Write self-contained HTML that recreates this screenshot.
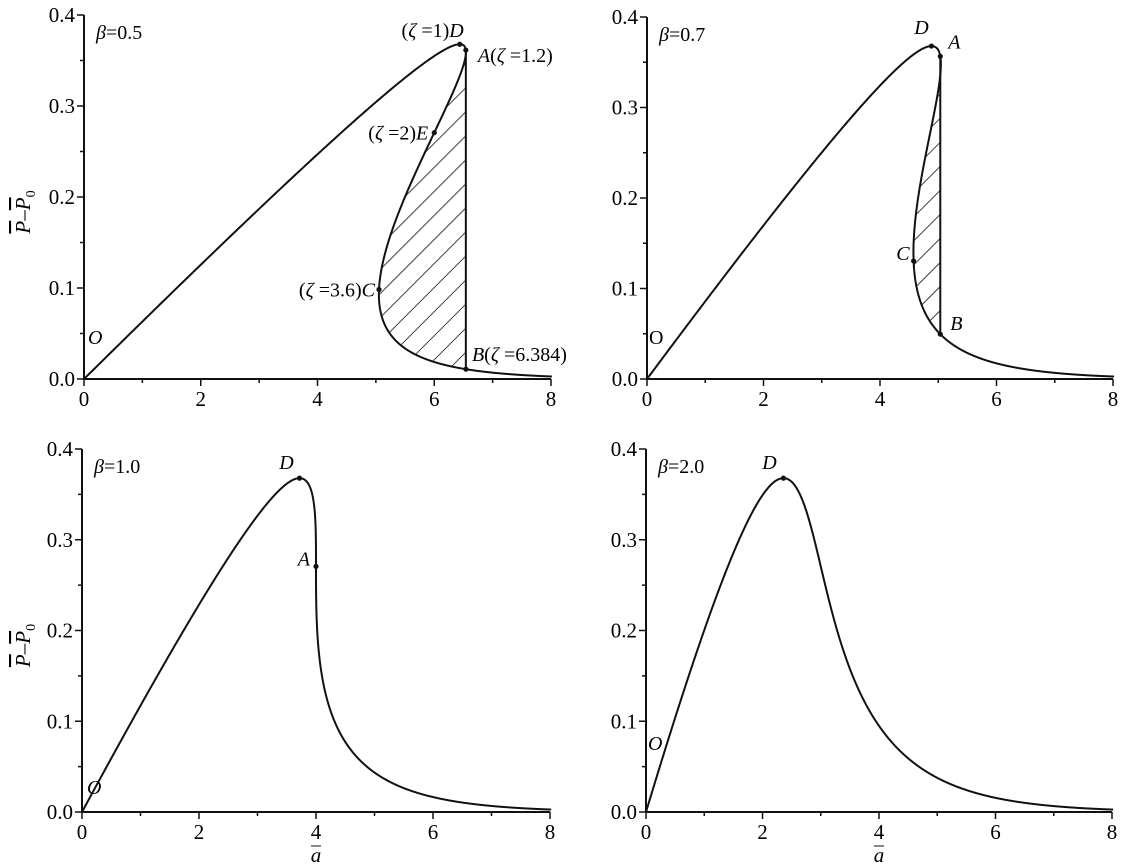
<!DOCTYPE html>
<html><head><meta charset="utf-8"><style>
html,body{margin:0;padding:0;background:#fff;}
svg{display:block;font-family:"Liberation Serif",serif;}
</style></head><body>
<svg id="s" width="1126" height="866" xmlns="http://www.w3.org/2000/svg">
<defs>
<pattern id="h" width="17" height="17" patternUnits="userSpaceOnUse" patternTransform="rotate(45)">
<line x1="0" y1="0" x2="0" y2="17" stroke="#111" stroke-width="1.6"/>
</pattern>
</defs>
</svg>
<script>
const S=document.getElementById('s');const NS='http://www.w3.org/2000/svg';
function el(t,a,txt){const e=document.createElementNS(NS,t);for(const k in a)e.setAttribute(k,a[k]);if(txt!==undefined)e.innerHTML=txt;S.appendChild(e);return e;}
const panels=[
{b:0.5,x0:84,x8:551,y0:379,y4:15,ylab:true,xlab:false},
{b:0.7,x0:647,x8:1113,y0:379,y4:17,ylab:false,xlab:false},
{b:1.0,x0:82,x8:550,y0:812,y4:449,ylab:true,xlab:true},
{b:2.0,x0:646,x8:1112,y0:812,y4:449,ylab:false,xlab:true}];
const E2=Math.exp(2);
panels.forEach((p,i)=>{
 const X=a=>p.x0+(p.x8-p.x0)*a/8, Y=v=>p.y0-(p.y0-p.y4)*v/0.4;
 const C=E2/p.b;
 const A=z=>z+C*z*Math.exp(-z), P=z=>z*Math.exp(-z);
 el('line',{x1:p.x0,y1:p.y4,x2:p.x0,y2:p.y0,stroke:'#111','stroke-width':2});
 el('line',{x1:p.x0,y1:p.y0,x2:p.x8,y2:p.y0,stroke:'#111','stroke-width':2});
 for(let k=0;k<=8;k++){const x=X(k);const L=k%2?4:7;el('line',{x1:x,y1:p.y0,x2:x,y2:p.y0+L,stroke:'#111','stroke-width':1.5});
  if(k%2==0)el('text',{x:x,y:p.y0+27,'font-size':21,'text-anchor':'middle'},k);}
 for(let k=0;k<=8;k++){const y=Y(k*0.05);const L=k%2?4:7;el('line',{x1:p.x0-L,y1:y,x2:p.x0,y2:y,stroke:'#111','stroke-width':1.5});
  if(k%2==0)el('text',{x:p.x0-9,y:y+7,'font-size':21,'text-anchor':'end'},(k*0.05).toFixed(1));}
 let d='';let first=true;
 for(let z=0;z<12;z+=0.005){const a=A(z);if(a>8.02)break;d+=(first?'M':'L')+X(a).toFixed(2)+' '+Y(P(z)).toFixed(2);first=false;}
 let av=null,z1,z2;
 if(p.b==0.5){z1=1.2;z2=6.384;av=A(1.2);}
 if(p.b==0.7){av=5.035;
   let lo=1,hi=1.38;for(let k=0;k<60;k++){const m=(lo+hi)/2;if(A(m)<av)lo=m;else hi=m;}z1=(lo+hi)/2;
   lo=3,hi=8;for(let k=0;k<60;k++){const m=(lo+hi)/2;if(A(m)<av)lo=m;else hi=m;}z2=(lo+hi)/2;}
 if(av!==null){
   let r='';for(let z=z1;z<=z2;z+=0.01){r+=(r?'L':'M')+X(A(z)).toFixed(2)+' '+Y(P(z)).toFixed(2);}
   r+='L'+X(av)+' '+Y(P(z2))+'L'+X(av)+' '+Y(P(z1))+'Z';
   el('path',{d:r,fill:'url(#h)',stroke:'none'});
   el('line',{x1:X(av),y1:Y(P(z1)),x2:X(av),y2:Y(P(z2)),stroke:'#111','stroke-width':2});
 }
 el('path',{d:d,fill:'none',stroke:'#111','stroke-width':2});
 const dot=z=>el('circle',{cx:X(A(z)),cy:Y(P(z)),r:2.6,fill:'#111'});
 const T=(x,y,h,anc)=>el('text',{x:x,y:y,'font-size':20,'text-anchor':anc||'start'},h);
 T(p.x0+12,p.y4+24,'<tspan font-style="italic">β</tspan>=' + p.b.toFixed(1));
 if(p.b==0.5){
  dot(1);dot(1.2);dot(2);dot(3.6);dot(6.384);
  T(X(A(1))+4,Y(P(1))-7,'(<tspan font-style="italic">ζ</tspan> =1)<tspan font-style="italic">D</tspan>','end');
  T(X(A(1.2))+12,Y(P(1.2))+12,'<tspan font-style="italic">A</tspan>(<tspan font-style="italic">ζ</tspan> =1.2)');
  T(X(A(2))-6,Y(P(2))+7,'(<tspan font-style="italic">ζ</tspan> =2)<tspan font-style="italic">E</tspan>','end');
  T(X(A(3.6))-4,Y(P(3.6))+7,'(<tspan font-style="italic">ζ</tspan> =3.6)<tspan font-style="italic">C</tspan>','end');
  T(X(A(6.384))+6,Y(P(6.384))-8,'<tspan font-style="italic">B</tspan>(<tspan font-style="italic">ζ</tspan> =6.384)');
  T(p.x0+4,p.y0-35,'<tspan font-style="italic">O</tspan>');
 }
 if(p.b==0.7){
  dot(1);dot(z1);dot(3.2);dot(z2);
  T(X(A(1))-10,Y(P(1))-12,'<tspan font-style="italic">D</tspan>','middle');
  T(X(av)+8,Y(P(z1))-8,'<tspan font-style="italic">A</tspan>');
  T(X(A(3.2))-4,Y(P(3.2))-1,'<tspan font-style="italic">C</tspan>','end');
  T(X(av)+10,Y(P(z2))-4,'<tspan font-style="italic">B</tspan>');
  T(p.x0+2,p.y0-35,'O');
 }
 if(p.b==1.0){
  dot(1);dot(2);
  T(X(A(1))-13,Y(P(1))-9,'<tspan font-style="italic">D</tspan>','middle');
  T(X(A(2))-6,Y(P(2))-1,'<tspan font-style="italic">A</tspan>','end');
  T(p.x0+5,p.y0-18,'<tspan font-style="italic">O</tspan>');
 }
 if(p.b==2.0){
  dot(1);
  T(X(A(1))-14,Y(P(1))-9,'<tspan font-style="italic">D</tspan>','middle');
  T(p.x0+2,p.y0-62,'<tspan font-style="italic">O</tspan>');
 }
 if(p.ylab){const cy=(p.y0+p.y4)/2+15;
  el('text',{x:0,y:0,'font-size':21,'text-anchor':'middle',transform:`translate(30,${cy}) rotate(-90)`},'<tspan font-style="italic" text-decoration="overline">P</tspan>–<tspan font-style="italic" text-decoration="overline">P</tspan><tspan font-size="14" dy="5">0</tspan>');
 }
 if(p.xlab){el('text',{x:X(4),y:p.y0+50,'font-size':21,'text-anchor':'middle','font-style':'italic'},'a');
  el('line',{x1:X(4)-5,y1:p.y0+34,x2:X(4)+5,y2:p.y0+34,stroke:'#111','stroke-width':1});}
});
</script>
</body></html>
